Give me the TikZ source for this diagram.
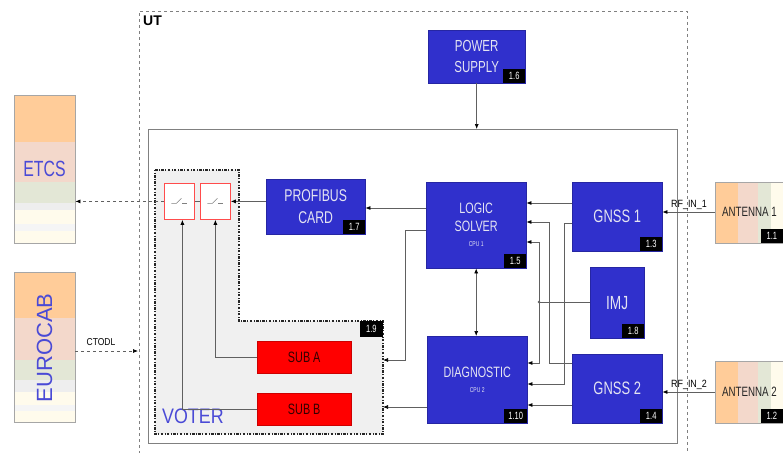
\documentclass[tikz,border=0pt]{standalone}
\usepackage{fontspec}
\setmainfont{Liberation Sans}
\newfontfamily\cond[FakeStretch=0.72]{Liberation Sans}
\newfontfamily\narrow[FakeStretch=0.85]{Liberation Sans}
\usetikzlibrary{arrows.meta}
\definecolor{boxblue}{HTML}{3030CC}
\definecolor{boxtext}{HTML}{E4E4F2}
\definecolor{lblue}{HTML}{4A4AD6}
\definecolor{bOr}{HTML}{FFCC99}
\definecolor{bPk}{HTML}{F3D8CB}
\definecolor{bGn}{HTML}{E3E7D6}
\definecolor{bGy}{HTML}{EEEEEE}
\definecolor{bCr}{HTML}{FFFBEC}
\definecolor{voterfill}{HTML}{F0F0F0}
\definecolor{lncol}{HTML}{606060}
\tikzset{
  bluebox/.style={draw=boxblue!80!black, fill=boxblue, text=boxtext, align=center, inner sep=0pt, anchor=north west, font=\cond\fontsize{16}{21}\selectfont},
  tagbox/.style={fill=black, text=white, inner xsep=1.5pt, inner ysep=0pt, minimum height=14pt, minimum width=22pt, anchor=south east, font=\cond\fontsize{10.5}{11}\selectfont},
  subbox/.style={fill=red, draw=red!80!black, text=red!20!black, inner sep=0pt, anchor=north west, minimum width=94pt, minimum height=32pt, font=\cond\fontsize{15}{16}\selectfont},
  swbox/.style={draw=red!70, fill=white, line width=0.8pt, inner sep=0pt, anchor=north west, minimum width=30pt, minimum height=36pt},
  ln/.style={draw=lncol, line width=0.7pt},
  arr/.style={ln, -{Latex[length=5pt,width=4pt,black]}},
  sideblk/.style={draw=gray!70, inner sep=0pt, anchor=north west},
}
\begin{document}
\begin{tikzpicture}[x=1pt,y=-1pt]
\useasboundingbox (0,0) rectangle (783,452);
\clip (0,0) rectangle (783,452);
\fill[white] (0,0) rectangle (783,452);

% UT frame
\draw[dashed, gray, line width=0.6pt] (139,460) -- (139,11) -- (687,11) -- (687,460);
\node[anchor=north west, inner sep=0pt, font=\bfseries\fontsize{14}{15}\selectfont] (ut) at (143,16) {UT};

% core box
\node[draw=gray, line width=0.7pt, minimum width=529pt, minimum height=314pt, anchor=north west, inner sep=0pt] (core) at (148,129) {};

% voter region
\coordinate (vR) at (383,321);
\draw[fill=voterfill, draw=black!85, line width=1.3pt, dash pattern=on 2.5pt off 1.5pt on 0.8pt off 1.5pt]
  (155,170) -- (239,170) -- (239,321) -- (vR) -- (383,434) -- (155,434) -- cycle;
\node[fill=black, text=white, inner xsep=2pt, minimum height=16pt, minimum width=23pt, anchor=north east, font=\cond\fontsize{10.5}{11}\selectfont] (t19) at (vR) {1.9};
\node[anchor=west, inner sep=0pt, text=lblue, font=\narrow\fontsize{21}{22}\selectfont] (voter) at (162,416) {VOTER};

% switches
\node[swbox] (sw1) at (164,183) {};
\node[swbox] (sw2) at (200,183) {};
\foreach \s in {sw1,sw2}{
  \draw[gray, line width=0.6pt] ([xshift=-8pt,yshift=-2pt]\s.center) -- ([xshift=-3pt,yshift=-2pt]\s.center) -- ([xshift=2pt,yshift=3pt]\s.center);
  \draw[gray, line width=0.6pt] ([xshift=3pt,yshift=-2pt]\s.center) -- ([xshift=8pt,yshift=-2pt]\s.center);
}
\draw[ln] (sw1.east) -- (sw2.west);

% subs
\node[subbox] (sa) at (257,341) {SUB A};
\node[subbox] (sb) at (257,393) {SUB B};
\draw[arr] (sa.west) -| (sw2.south);
\draw[arr] (sb.west) -| ([xshift=3pt]sw1.south);

% blue boxes
\node[bluebox, minimum width=97pt, minimum height=53pt] (ps) at (428,30) {POWER\\SUPPLY};
\node[tagbox] at (ps.south east) {1.6};
\node[bluebox, minimum width=99pt, minimum height=55pt, font=\cond\fontsize{17}{22}\selectfont] (pb) at (266,179) {PROFIBUS\\CARD};
\node[tagbox] at (pb.south east) {1.7};
\node[bluebox, minimum width=100pt, minimum height=86pt, font=\cond\fontsize{15}{18}\selectfont] (ls) at (426,182) {LOGIC\\SOLVER\\[-3pt]{\fontsize{7}{8}\selectfont CPU 1}};
\node[tagbox] at (ls.south east) {1.5};
\node[bluebox, minimum width=100pt, minimum height=87pt, font=\cond\fontsize{15}{18}\selectfont] (dg) at (427,336) {DIAGNOSTIC\\[-3pt]{\fontsize{7}{8}\selectfont CPU 2}};
\node[tagbox, minimum width=23pt] at (dg.south east) {1.10};
\node[bluebox, minimum width=90pt, minimum height=69pt, font=\cond\fontsize{18}{20}\selectfont] (g1) at (572,182) {GNSS 1};
\node[tagbox] at (g1.south east) {1.3};
\node[bluebox, minimum width=54pt, minimum height=71pt, font=\cond\fontsize{19}{20}\selectfont] (imj) at (590,267) {IMJ};
\node[tagbox] at (imj.south east) {1.8};
\node[bluebox, minimum width=90pt, minimum height=69pt, font=\cond\fontsize{18}{20}\selectfont] (g2) at (572,354) {GNSS 2};
\node[tagbox] at (g2.south east) {1.4};

% ETCS
\fill[bOr] (14,95) rectangle (75,142);
\fill[bPk] (14,142) rectangle (75,182);
\fill[bGn] (14,182) rectangle (75,203);
\fill[bGy] (14,203) rectangle (75,210);
\fill[bCr] (14,210) rectangle (75,224);
\fill[bGy!60] (14,224) rectangle (75,231);
\fill[bCr] (14,231) rectangle (75,243);
\node[sideblk, minimum width=61pt, minimum height=148pt] (etcs) at (14,95) {};
\node[text=lblue, inner sep=0pt, font=\cond\fontsize{22}{23}\selectfont] (etcsl) at (44.5,169) {ETCS};

% EUROCAB
\fill[bOr] (14,272) rectangle (75,318);
\fill[bPk] (14,318) rectangle (75,360);
\fill[bGn] (14,360) rectangle (75,380);
\fill[bGy] (14,380) rectangle (75,392);
\fill[bCr] (14,392) rectangle (75,405);
\fill[bGy!60] (14,405) rectangle (75,411);
\fill[bCr] (14,411) rectangle (75,422);
\node[sideblk, minimum width=61pt, minimum height=150pt] (ec) at (14,272) {};
\node[rotate=90, text=lblue, inner sep=0pt, font=\fontsize{22}{23}\selectfont] (ecl) at (44.5,348) {EUROCAB};

% antennas
\fill[bOr] (715,182) rectangle (738,243);
\fill[bPk] (738,182) rectangle (758,243);
\fill[bGn] (758,182) rectangle (771,243);
\fill[bCr] (771,182) rectangle (790,243);
\node[sideblk, minimum width=80pt, minimum height=61pt] (a1) at (715,182) {};
\node[anchor=west, inner sep=0pt, font=\cond\fontsize{13.5}{14}\selectfont, text=black!85] (a1l) at (722,212) {ANTENNA 1};
\node[tagbox] at (783,243) {1.1};
\fill[bOr] (715,361) rectangle (738,423);
\fill[bPk] (738,361) rectangle (758,423);
\fill[bGn] (758,361) rectangle (771,423);
\fill[bCr] (771,361) rectangle (790,423);
\node[sideblk, minimum width=80pt, minimum height=62pt] (a2) at (715,361) {};
\node[anchor=west, inner sep=0pt, font=\cond\fontsize{13.5}{14}\selectfont, text=black!85] (a2l) at (722,392) {ANTENNA 2};
\node[tagbox] at (783,423) {1.2};

% connectors
\draw[arr] (ps.south) -- (ps.south |- core.north);
\draw[arr, dashed] (sw1.west) -- (etcs.east |- sw1.west);
\coordinate (ctend) at (138,351);
\draw[arr, dashed] (ec.east |- ctend) -- (ctend);
\node[font=\narrow\fontsize{10}{11}\selectfont, inner sep=1pt] (ctodl) at (101,342) {CTODL};

\draw[arr] (pb.west |- sw2.east) -- (sw2.east);
\draw[arr] (ls.west |- 0,208) -- (pb.east |- 0,208);
\draw[arr] (ls.west |- 0,230) -- (405,230) -- (405,360) -- (vR |- 0,360);
\draw[arr] (dg.west |- 0,407) -- (vR |- 0,407);
\draw[ln, {Latex[length=5pt,width=4pt,black]}-{Latex[length=5pt,width=4pt,black]}] (ls.south) -- (ls.south |- dg.north);

\draw[arr] (g1.west |- 0,203) -- (ls.east |- 0,203);
\draw[arr] (g2.west |- 0,363) -- (549,363) -- (549,222) -- (ls.east |- 0,222);
\draw[ln] (imj.west |- 0,302) -- (539,302);
\fill[lncol] (539,302) circle (1.3pt);
\draw[arr] (539,302) -- (539,242) -- (ls.east |- 0,242);
\draw[arr] (539,302) -- (539,363) -- (dg.east |- 0,363);
\draw[arr] (g1.west |- 0,223) -- (564,223) -- (564,384) -- (dg.east |- 0,384);
\draw[arr] (g2.west |- 0,405) -- (dg.east |- 0,405);

\draw[arr] (a1.west |- a1l) -- (g1.east |- a1l);
\node[font=\narrow\fontsize{10.5}{11}\selectfont, anchor=south, inner sep=1pt] (rf1) at (689,211) {RF\_IN\_1};
\draw[arr] (a2.west |- a2l) -- (g2.east |- a2l);
\node[font=\narrow\fontsize{10.5}{11}\selectfont, anchor=south, inner sep=1pt] (rf2) at (689,391) {RF\_IN\_2};
\end{tikzpicture}
\end{document}
